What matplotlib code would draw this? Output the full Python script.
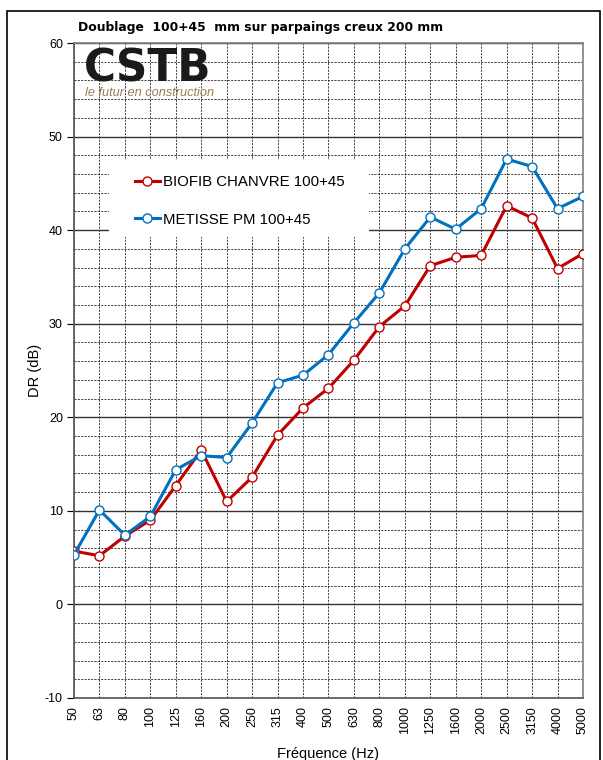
import matplotlib.pyplot as plt
from matplotlib.patches import Rectangle
from matplotlib.ticker import MultipleLocator

# Données
freqs = ['50', '63', '80', '100', '125', '160', '200', '250', '315', '400', '500',
         '630', '800', '1000', '1250', '1600', '2000', '2500', '3150', '4000', '5000']
biofib = [5.7, 5.2, 7.3, 9.0, 12.7, 16.5, 11.0, 13.6, 18.1, 21.0, 23.1,
          26.1, 29.7, 31.9, 36.2, 37.1, 37.3, 42.6, 41.3, 35.9, 37.5]
metisse = [5.3, 10.1, 7.4, 9.4, 14.4, 15.9, 15.7, 19.4, 23.7, 24.5, 26.7,
           30.1, 33.3, 38.0, 41.4, 40.1, 42.3, 47.6, 46.8, 42.3, 43.6]

plt.rcParams['font.family'] = ['Liberation Sans', 'DejaVu Sans']
plt.rcParams['axes.unicode_minus'] = False

fig = plt.figure(figsize=(6.03, 7.60), dpi=100)
ax = fig.add_axes([0.1227, 0.0816, 0.8441, 0.8618])

x = list(range(len(freqs)))

ax.plot(x, biofib, color='#C00000', lw=2.2, marker='o', ms=6.5, mfc='white',
        mec='#C00000', mew=1.0, label='BIOFIB CHANVRE 100+45', zorder=5)
ax.plot(x, metisse, color='#0070C0', lw=2.2, marker='o', ms=6.5, mfc='white',
        mec='#0070C0', mew=1.0, label='METISSE PM 100+45', zorder=5)

ax.set_xlim(0, len(freqs) - 1)
ax.set_ylim(-10, 60)
ax.set_xticks(x)
ax.set_xticklabels(freqs, rotation=90, fontsize=9)
ax.yaxis.set_major_locator(MultipleLocator(10))
ax.yaxis.set_minor_locator(MultipleLocator(2))
ax.tick_params(axis='y', which='major', labelsize=9, length=5, pad=3)
ax.tick_params(axis='y', which='minor', length=0)
ax.tick_params(axis='x', length=0, pad=6)

# grille
ax.grid(True, axis='y', which='major', color='#333333', lw=1.0, ls='-', zorder=1)
ax.grid(True, axis='y', which='minor', color='#222222', lw=0.6, ls=(0, (2.5, 1.5)), zorder=1)
ax.grid(True, axis='x', which='major', color='#222222', lw=0.6, ls=(0, (2.5, 1.5)), zorder=1)
ax.set_axisbelow(True)

for s in ax.spines.values():
    s.set_color('#808080')
    s.set_linewidth(1.2)
ax.spines['left'].set_color('#555555')
ax.spines['bottom'].set_color('#555555')

ax.set_ylabel('DR (dB)', fontsize=10.5, labelpad=2)
ax.set_xlabel('Fréquence (Hz)', fontsize=10.5, labelpad=9)

fig.text(0.1294, 0.964, 'Doublage  100+45  mm sur parpaings creux 200 mm',
         fontsize=8.9, fontweight='bold', family='DejaVu Sans', va='center')

# fond blanc de la légende
ax.add_patch(Rectangle((0.069, 0.704), 0.511, 0.117, transform=ax.transAxes,
                       facecolor='white', edgecolor='none', zorder=3))
ax.legend(loc='upper left', bbox_to_anchor=(0.12, 0.798), frameon=False,
          fontsize=10.8, handlelength=1.65, handletextpad=0.2, labelspacing=1.55,
          borderpad=0, borderaxespad=0)

# logo CSTB
ax.text(0.02, 0.942, 'CSTB', transform=ax.transAxes, fontsize=31.5,
        fontweight='heavy', family='DejaVu Sans', color='#1a1a1a', va='baseline',
        ha='left', zorder=4)
ax.text(0.022, 0.919, 'le futur en construction', transform=ax.transAxes,
        fontsize=9.2, style='italic', color='#9C7A55', va='baseline', ha='left',
        zorder=4)

# cadre extérieur
fig.patches.append(Rectangle((7 / 603, -0.01), 593 / 603, 1 - 11 / 760 + 0.01,
                             transform=fig.transFigure, fill=False,
                             edgecolor='black', lw=1.2))

fig.savefig('out.png', dpi=100)
